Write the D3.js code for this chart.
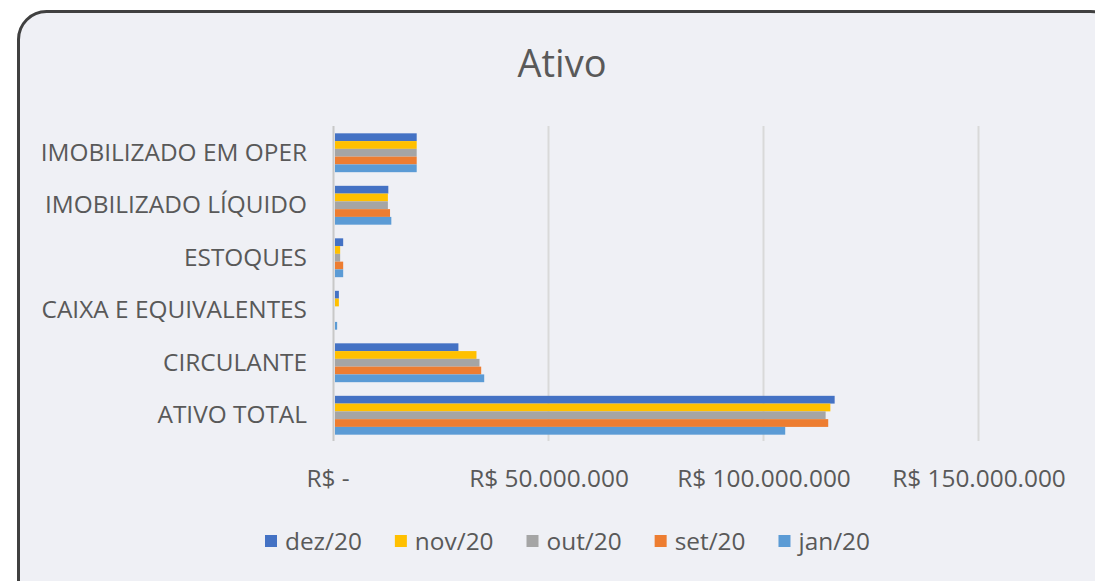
<!DOCTYPE html>
<html>
<head>
  <meta charset="utf-8">
  <title>Ativo</title>
  <script src="https://d3js.org/d3.v7.min.js"></script>
  <style>
    body { margin: 0; background: #fff; }
    text { font-family: "Open Sans", sans-serif; fill: #595959; }
  </style>
</head>
<body>
<script>
  // Data
  var categories = ["IMOBILIZADO EM OPER", "IMOBILIZADO LÍQUIDO", "ESTOQUES", "CAIXA E EQUIVALENTES", "CIRCULANTE", "ATIVO TOTAL"];
  var seriesNames = ["dez/20", "nov/20", "out/20", "set/20", "jan/20"];
  var seriesColors = ["#4472c4", "#ffc000", "#a5a5a5", "#ed7d31", "#5b9bd5"];
  // values in R$ millions, one array per series, same order as categories
  var dez20 = [19.0, 12.4, 1.9, 0.9, 28.7, 116.2];
  var nov20 = [19.0, 12.3, 1.2, 0.9, 32.9, 115.2];
  var out20 = [19.0, 12.3, 1.2, 0.0, 33.6, 114.1];
  var set20 = [19.0, 12.8, 1.9, 0.0, 34.0, 114.7];
  var jan20 = [19.0, 13.1, 1.9, 0.5, 34.7, 104.7];
  var tickValues = [0, 50, 100, 150];
  var tickLabels = ["R$ -", "R$ 50.000.000", "R$ 100.000.000", "R$ 150.000.000"];

  var seriesValues = [dez20, nov20, out20, set20, jan20];

  var W = 1095, H = 581;
  var plot = {left: 334, right: 979, top: 126, bottom: 441};
  var fontSize = "24.4px";

  var svg = d3.select("body").append("svg")
      .attr("width", W).attr("height", H);

  // frame
  svg.append("rect")
      .attr("x", 18.5).attr("y", 11.5)
      .attr("width", 1100).attr("height", 620)
      .attr("rx", 28).attr("ry", 28)
      .attr("fill", "#eff0f5")
      .attr("stroke", "#404040")
      .attr("stroke-width", 3);

  // title
  svg.append("text")
      .attr("x", 562).attr("y", 77)
      .attr("text-anchor", "middle")
      .style("font-size", "38px")
      .text("Ativo");

  // Scales
  var x = d3.scaleLinear().domain([0, 150]).range([plot.left, plot.right]);
  var y = d3.scaleBand().domain(categories).range([plot.top, plot.bottom]).paddingInner(0.26).paddingOuter(0.13);
  var ySub = d3.scaleBand().domain(seriesNames).range([0, y.bandwidth()]);

  // grid
  svg.append("g").selectAll("line")
      .data(tickValues)
      .enter().append("line")
      .attr("x1", function(d) { return Math.round(x(d)) - 0.5; })
      .attr("x2", function(d) { return Math.round(x(d)) - 0.5; })
      .attr("y1", plot.top).attr("y2", plot.bottom)
      .attr("stroke", function(d) { return d === 0 ? "#c8c8c8" : "#d9d9d9"; })
      .attr("stroke-width", 2);

  // tick labels
  svg.append("g").selectAll("text")
      .data(tickValues)
      .enter().append("text")
      .attr("x", function(d, i) { return i === 0 ? x(d) - 6 : x(d); })
      .attr("y", 478)
      .attr("dy", "0.35em")
      .attr("text-anchor", "middle")
      .style("font-size", fontSize)
      .text(function(d, i) { return tickLabels[i]; });

  // category labels
  svg.append("g").selectAll("text")
      .data(categories)
      .enter().append("text")
      .attr("x", 307)
      .attr("y", function(d) { return y(d) + y.bandwidth() / 2; })
      .attr("dy", "0.35em")
      .attr("text-anchor", "end")
      .style("font-size", fontSize)
      .text(function(d) { return d; });

  // bars
  var groups = svg.append("g").selectAll("g")
      .data(categories)
      .enter().append("g")
      .attr("transform", function(d) { return "translate(0," + (y(d) + 0.5) + ")"; });

  groups.selectAll("rect")
      .data(function(d, ci) {
        return seriesNames.map(function(s, si) { return {s: s, i: si, v: seriesValues[si][ci]}; });
      })
      .enter().append("rect")
      .attr("x", x(0) + 1)
      .attr("y", function(d) { return ySub(d.s); })
      .attr("width", function(d) { return Math.max(0, x(d.v) - x(0)); })
      .attr("height", ySub.bandwidth())
      .attr("fill", function(d) { return seriesColors[d.i]; });

  // legend
  var legend = svg.append("g").attr("transform", "translate(0,541)");
  var items = legend.selectAll("g")
      .data(seriesNames)
      .enter().append("g");
  items.append("rect")
      .attr("width", 12).attr("height", 12)
      .attr("y", -6)
      .attr("fill", function(d, i) { return seriesColors[i]; });
  items.append("text")
      .attr("x", 20)
      .attr("dy", "0.35em")
      .style("font-size", fontSize)
      .text(function(d) { return d; });

  var widths = [];
  items.each(function() { widths.push(this.getBBox().width); });
  var legendLeft = 265, legendRight = 870;
  var gap = (legendRight - legendLeft - d3.sum(widths)) / (widths.length - 1);
  var cx = legendLeft;
  items.attr("transform", function(d, i) {
    var pos = cx;
    cx += widths[i] + gap;
    return "translate(" + pos + ",0)";
  });
</script>
</body>
</html>
